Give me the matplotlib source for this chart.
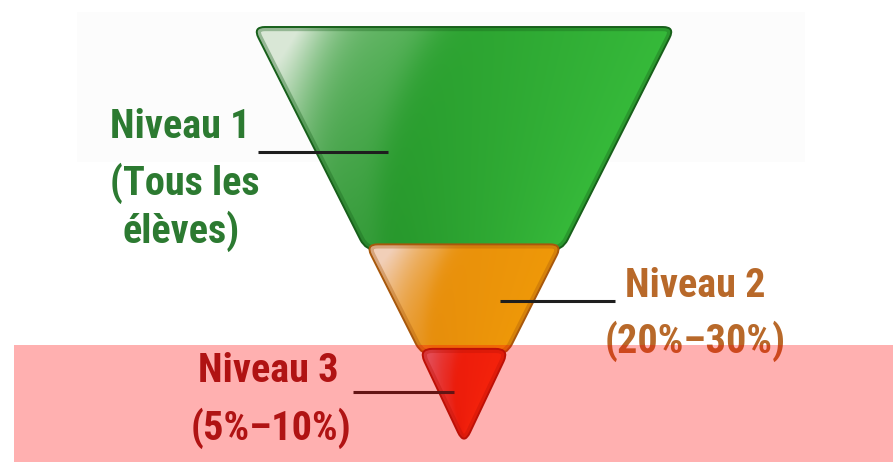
import numpy as np
import matplotlib
matplotlib.use("Agg")
import matplotlib.pyplot as plt
from matplotlib import font_manager
from matplotlib.path import Path
from matplotlib.patches import PathPatch, Rectangle

# levels of the pyramid, top to bottom
levels = ["Niveau 1", "Niveau 2", "Niveau 3"]
sublabels = [["(Tous les", "élèves)"], ["(20%–30%)"], ["(5%–10%)"]]
depth_share = [0.52, 0.25, 0.23]  # share of the triangle height per level

base_cols = ["#26952b", "#e68d0c", "#e0260f"]
light_cols = ["#e3ece0", "#f2d3c2", "#d8707e"]
bright_cols = ["#38be3c", "#f09a08", "#f23412"]
edge_cols = ["#17601a", "#a8580c", "#a0180a"]
text_cols = ["#2c7a31", "#b8692a", "#8e1c1c"]
glow_width = [0.14, 0.22, 0.22]

# pick a narrow bold face that is really installed
bold_names = {f.name for f in font_manager.fontManager.ttflist if f.weight in (700, "bold")}
cands = ["Roboto Condensed", "Archivo Narrow", "IBM Plex Sans Condensed",
         "Fira Sans Condensed", "Barlow Semi Condensed"]
FONT = [c for c in cands if c in bold_names][:1] + ["Liberation Sans", "DejaVu Sans"]

# geometry of the inverted triangle (pixel space, y downwards)
cx, y_top, y_apex, half_w = 464, 27, 445, 211


def half_width(y):
    return half_w * (y_apex - y) / (y_apex - y_top)


def rounded_path(pts, r):
    pts = np.asarray(pts, float)
    n = len(pts)
    verts, codes = [], []
    for i in range(n):
        p0, p1, p2 = pts[i - 1], pts[i], pts[(i + 1) % n]
        d1 = (p0 - p1) / np.hypot(*(p0 - p1))
        d2 = (p2 - p1) / np.hypot(*(p2 - p1))
        a, b = p1 + d1 * r, p1 + d2 * r
        verts.append(a)
        codes.append(Path.MOVETO if i == 0 else Path.LINETO)
        verts += [p1, b]
        codes += [Path.CURVE3, Path.CURVE3]
    verts.append(verts[0])
    codes.append(Path.CLOSEPOLY)
    return Path(verts, codes)


def rgb(c):
    return np.array(matplotlib.colors.to_rgb(c))


fig = plt.figure(figsize=(8.93, 4.62), dpi=100)
ax = fig.add_axes([0, 0, 1, 1])
ax.set_xlim(0, 893)
ax.set_ylim(462, 0)
ax.axis("off")

ax.add_patch(Rectangle((77, 12), 728, 150, color="#fcfcfc", zorder=0, lw=0))

bounds = y_top + (y_apex - y_top) * np.concatenate([[0], np.cumsum(depth_share)])
for i in range(len(levels)):
    y0 = bounds[i]
    y1 = bounds[i + 1] + (6 if i < len(levels) - 1 else 0)
    inset = 0 if i == 0 else 3
    w0 = half_width(y0) - inset
    if i == len(levels) - 1:
        pts = [(cx - w0, y0), (cx + w0, y0), (cx, y1)]
        r = 14
    else:
        w1 = half_width(y1) - inset
        pts = [(cx - w0, y0), (cx + w0, y0), (cx + w1, y1), (cx - w1, y1)]
        r = 12
    path = rounded_path(pts, r)
    z = 2 + i * 3

    # shaded fill: bright corner top-left, broad light diagonal band, brighter right side
    xs = np.arange(cx - w0 - 2, cx + w0 + 2, 1.0)
    ys = np.arange(y0 - 2, y1 + 2, 1.0)
    X, Y = np.meshgrid(xs, ys)
    hw = np.maximum(half_width(Y) - inset, 1)
    u = np.clip((X - (cx - hw)) / (2 * hw), 0, 1)
    v = np.clip((Y - y0) / (y1 - y0), 0, 1)
    base = rgb(base_cols[i])
    col = base + (rgb(bright_cols[i]) - base) * (u ** 1.3)[..., None] * 0.9
    s = u + 0.35 * v
    gw = glow_width[i]
    h = 0.85 * np.exp(-((s - 0.04) / gw) ** 2) * np.clip(1 - 0.9 * v, 0, 1)
    h += 0.28 / (1 + np.exp((s - 0.42) / 0.03)) * np.clip(1 - 0.7 * v, 0, 1)
    h = np.clip(h, 0, 0.95)
    col = col * (1 - h[..., None]) + rgb(light_cols[i]) * h[..., None]
    col = np.clip(col, 0, 1)
    im = ax.imshow(col, extent=(xs[0], xs[-1], ys[-1], ys[0]), origin="upper",
                   interpolation="bilinear", zorder=z, aspect="auto")
    clip = PathPatch(path, transform=ax.transData, facecolor="none", lw=0)
    ax.add_patch(clip)
    im.set_clip_path(clip)

    # inner shadow and outline
    shade = PathPatch(path, facecolor="none", edgecolor=edge_cols[i], lw=6,
                      alpha=0.35, zorder=z + 1)
    ax.add_patch(shade)
    shade.set_clip_path(clip)
    ax.add_patch(PathPatch(path, facecolor="none", edgecolor=edge_cols[i], lw=1.4,
                           zorder=z + 2))

ax.set_xlim(0, 893)
ax.set_ylim(462, 0)

# leader lines and labels
leaders = [((258, 388), 152), ((500, 615), 301), ((353, 454), 392)]
for (xa, xb), y in leaders:
    ax.plot([xa, xb], [y, y], color="#1e1e1e", lw=2.2, zorder=12,
            solid_capstyle="butt")

fs = 29
kw = dict(fontsize=fs, fontweight="bold", family=FONT, va="center", zorder=13)
ax.text(180, 127, levels[0], color=text_cols[0], ha="center", **kw)
ax.text(185, 183, sublabels[0][0], color=text_cols[0], ha="center", **kw)
ax.text(181, 231, sublabels[0][1], color=text_cols[0], ha="center", **kw)

ax.text(625, 286, levels[1], color=text_cols[1], ha="left", **kw)
ax.text(695, 341, sublabels[1][0], color=text_cols[1], ha="center", **kw)

ax.text(268, 371, levels[2], color=text_cols[2], ha="center", **kw)
ax.text(271, 428, sublabels[2][0], color=text_cols[2], ha="center", **kw)

# translucent band over the lower part
ax.add_patch(Rectangle((14, 345), 879, 117, color="red", alpha=0.31, lw=0, zorder=20))

fig.savefig("out.png", dpi=100)
